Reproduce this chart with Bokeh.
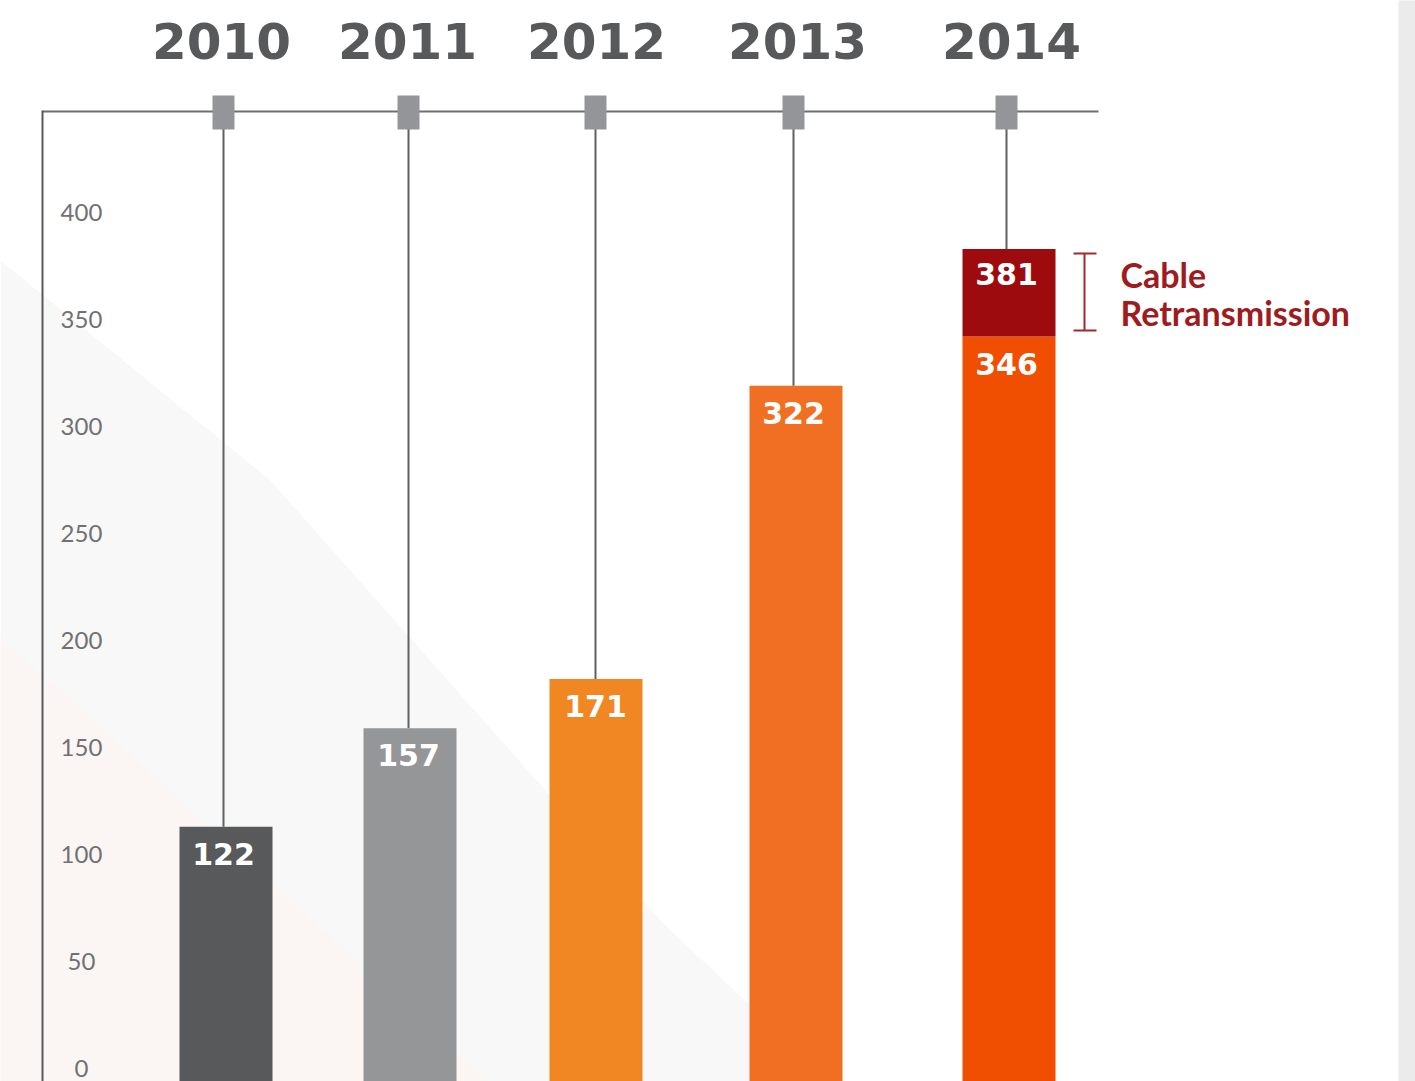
from bokeh.plotting import figure
from bokeh.models import Range1d
from bokeh.embed import file_html
from bokeh.resources import INLINE
from bokeh.core.properties import value

# ---------------- data ----------------
years = ["2010", "2011", "2012", "2013", "2014"]
bar_heights = [113, 159, 182, 319, 342]          # drawn bar tops against the axis
bar_labels = ["122", "157", "171", "322", "346"]
cable_top = 383                                    # 2014 stacked top
cable_label = "381"
y_ticks = [0, 50, 100, 150, 200, 250, 300, 350, 400]
y_tick_labels = ["0", "50", "100", "150", "200", "250", "300", "350", "400"]
annotation = ["Cable", "Retransmission"]

# ---------------- layout ----------------
W, H = 1415, 1081
PAGE_TOP, PAGE_LEFT = 0, 0
Y0_PX = 1068.0          # page y of value 0
PX_PER_UNIT = 2.14
def px_to_val(py):
    return (Y0_PX - py) / PX_PER_UNIT

x_bar = [225.5, 409.5, 595.5, 795.5, 1008.5]
x_stem = [223, 408, 595, 793, 1006]
x_year = [221, 407, 596, 797, 1011]
bar_w = 93
bar_colors = ["#58595b", "#959698", "#f18722", "#f16f22", "#f04e00"]
cable_color = "#9e0b0f"
dark = "#58595b"

p = figure(width=W, height=H, output_backend="svg", toolbar_location=None,
           x_range=Range1d(PAGE_LEFT, PAGE_LEFT + W),
           y_range=Range1d(px_to_val(PAGE_TOP + H), px_to_val(PAGE_TOP)),
           min_border=0, min_border_left=0, min_border_right=0,
           min_border_top=0, min_border_bottom=0)
p.extra_y_ranges = {"px": Range1d(PAGE_TOP + H, PAGE_TOP)}
p.axis.visible = False
p.grid.visible = False
p.outline_line_color = None
p.background_fill_color = "white"
p.border_fill_color = "white"

# faint watermark shapes
p.patch([0, 270, 663, 830, 0], [260, 480, 923, 1081, 1081], y_range_name="px",
        fill_color="#f8f8f8", line_color=None)
p.patch([0, 488, 0], [636, 1081, 1081], y_range_name="px",
        fill_color="#fbf6f3", line_color=None)
# right strip
p.quad(left=[1398], right=[1420], top=[-10], bottom=[1100], y_range_name="px",
       fill_color="#ebebeb", line_color=None)

# frame lines
p.segment(x0=[42], y0=[111], x1=[1098], y1=[111], y_range_name="px",
          line_color="#6d6e71", line_width=2)
p.segment(x0=[42], y0=[110], x1=[42], y1=[1100], y_range_name="px",
          line_color=dark, line_width=2)

# stems
stem_tops = bar_heights[:4] + [cable_top]
p.segment(x0=x_stem, y0=stem_tops, x1=x_stem, y1=[px_to_val(112)] * 5,
          line_color="#5f6062", line_width=2)
# markers
p.quad(left=[x - 11 for x in x_stem], right=[x + 11 for x in x_stem],
       top=[95] * 5, bottom=[129] * 5, y_range_name="px",
       fill_color="#939598", line_color=None)

# bars
p.vbar(x=x_bar, top=bar_heights, bottom=-50, width=bar_w,
       fill_color=bar_colors, line_color=None)
p.vbar(x=[x_bar[4]], top=[cable_top], bottom=[bar_heights[4]], width=bar_w,
       fill_color=cable_color, line_color=None)

# bar labels
p.text(x=x_stem, y=bar_heights, text=bar_labels, text_align="center",
       text_baseline="top", y_offset=16, text_color="white",
       text_font=value("DejaVu Sans"), text_font_style="bold",
       text_font_size="30px")
p.text(x=[x_stem[4]], y=[cable_top], text=[cable_label], text_align="center",
       text_baseline="top", y_offset=14, text_color="white",
       text_font=value("DejaVu Sans"), text_font_style="bold",
       text_font_size="30px")

# year labels
p.text(x=x_year, y=[40] * 5, y_range_name="px", text=years,
       text_align="center", text_baseline="middle", text_color=dark,
       text_font=value("DejaVu Sans"), text_font_style="bold",
       text_font_size="50px")

# y tick labels
p.text(x=[81] * len(y_ticks), y=y_ticks, text=y_tick_labels,
       text_align="center", text_baseline="middle", text_color="#707173",
       text_font=value("Lato"), text_font_size="24px")

# bracket + annotation
p.segment(x0=[1084, 1073, 1073], y0=[253, 253, 330],
          x1=[1084, 1096, 1096], y1=[330, 253, 330], y_range_name="px",
          line_color="#9e2a2e", line_width=2)
p.text(x=[1120, 1120], y=[274, 312], y_range_name="px", text=annotation,
       text_align="left", text_baseline="middle", text_color="#9e1b20",
       text_font=value("Lato"), text_font_style="bold",
       text_font_size="34px")

open("out.html", "w").write(file_html(p, INLINE))
